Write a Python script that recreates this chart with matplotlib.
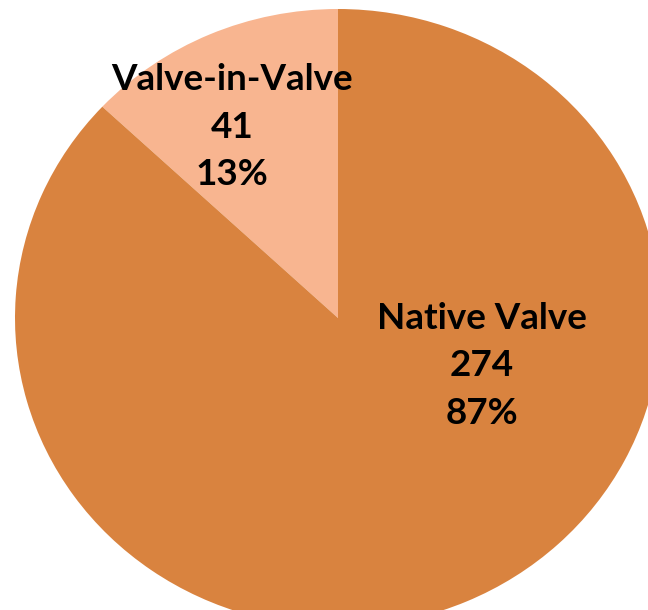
import matplotlib.pyplot as plt

# Data
labels = ['Native Valve', 'Valve-in-Valve']
counts = [274, 41]
colours = ['#D9833F', '#F8B590']

total = sum(counts)
pcts = [round(100 * c / total) for c in counts]

fig = plt.figure(figsize=(6.48, 6.10), dpi=100)
W, H = 648, 610
# Pie is slightly wider than tall and cut off at the right and bottom.
cx, cy, rx, ry = 338, 318, 323, 309
ax = fig.add_axes([(cx - rx) / W, 1 - (cy + ry) / H, 2 * rx / W, 2 * ry / H])

# Valve-in-Valve wedge starts at the top and goes counter-clockwise.
ax.pie(counts[::-1], colors=colours[::-1], startangle=90, counterclock=True,
       radius=1, wedgeprops=dict(linewidth=0))
ax.set_aspect('auto')
ax.set_xlim(-1, 1)
ax.set_ylim(-1, 1)
ax.axis('off')

def to_data(px, py):
    return (px - cx) / rx, (cy - py) / ry

pos = {'Native Valve': to_data(482, 366), 'Valve-in-Valve': to_data(232, 127)}
for lab, c, p in zip(labels, counts, pcts):
    x, y = pos[lab]
    ax.text(x, y, f'{lab}\n{c}\n{p}%', ha='center', va='center',
            fontsize=26.5, fontweight='bold', family='Lato', linespacing=1.55,
            color='black')

fig.savefig('out.png', dpi=100)
